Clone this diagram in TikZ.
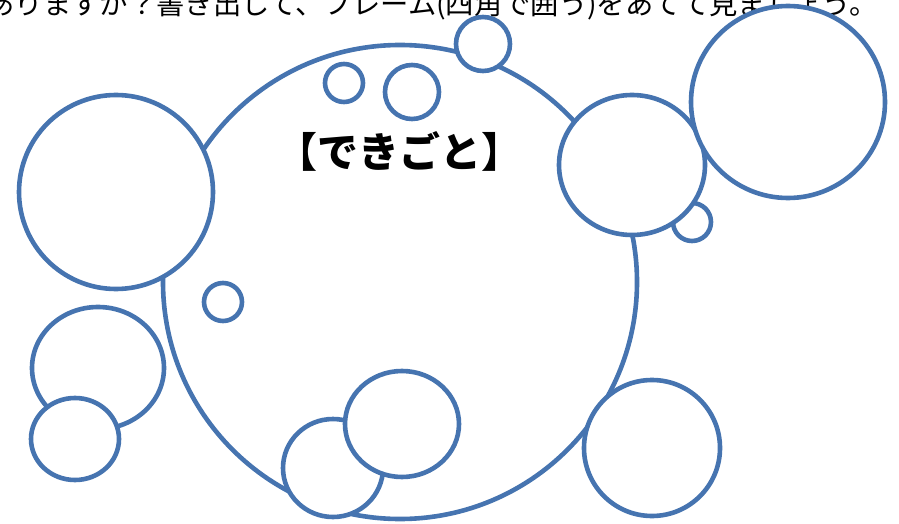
\documentclass[tikz,border=0pt]{standalone}
\usepackage{fontspec}
\newfontfamily\cjk{Noto Sans CJK JP}
\definecolor{bubbleblue}{RGB}{70,116,176}

\begin{document}
\begin{tikzpicture}[x=1pt,y=-1pt,line width=4.6pt,
  bubble/.style={draw=bubbleblue,fill=white}]
  \useasboundingbox (0,0) rectangle (899,524);
  \node[anchor=base east,inner sep=0pt,font=\cjk\fontsize{28.3}{28}\selectfont] (prompt) at (880,15) {ありますか？書き出して、フレーム(四角で囲う)をあてて見ましょう。};
  \draw[bubble] (400,282) ellipse (237 and 237);
  \draw[bubble] (116,192) ellipse (97 and 97);
  \draw[bubble] (223,302) ellipse (19 and 19);
  \draw[bubble] (98,368) ellipse (66 and 61);
  \draw[bubble] (75,439) ellipse (44 and 41);
  \draw[bubble] (333,468) ellipse (50 and 49);
  \draw[bubble] (402,424) ellipse (57 and 53);
  \draw[bubble] (652,448) ellipse (68 and 68);
  \draw[bubble] (692,222) ellipse (19 and 19);
  \draw[bubble] (632,165) ellipse (73 and 70);
  \draw[bubble] (788,102) ellipse (97 and 96);
  \draw[bubble] (344,83) ellipse (19 and 19);
  \draw[bubble] (412,92) ellipse (27 and 27);
  \draw[bubble] (483,44) ellipse (27 and 27);
  \node[inner sep=0pt,font=\cjk\bfseries\fontsize{41}{41}\selectfont] (event) at (399,151) {【できごと】};
\end{tikzpicture}
\end{document}
